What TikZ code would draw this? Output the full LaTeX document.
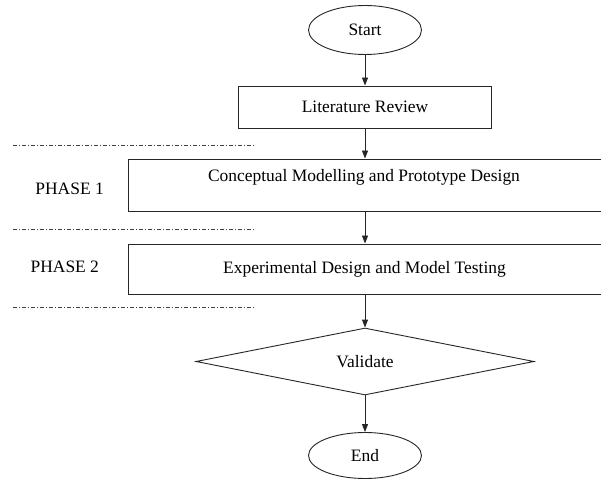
\documentclass[tikz,border=0pt]{standalone}
\usepackage{fontspec}
\setmainfont{Liberation Serif}
\usetikzlibrary{shapes.geometric,arrows.meta}
\begin{document}
\begin{tikzpicture}[x=1bp,y=-1bp,
  every node/.style={font=\fontsize{17.5}{20}\selectfont},
  line/.style={line width=0.9bp,draw=black!85},
  oval/.style={line,ellipse,inner sep=0pt},
  box/.style={line,rectangle,inner sep=0pt},
  dia/.style={line,diamond,aspect=5,inner sep=0pt},
  flow/.style={line,-{Triangle[length=8bp,width=6bp]}},
  phase/.style={draw=black!75,line width=0.7bp,dash pattern=on 4bp off 2bp on 1bp off 2bp}]
\useasboundingbox (0,0) rectangle (601,480);
\node[oval,minimum width=113bp,minimum height=49bp] (start) at (365,30) {Start};
\node[box,minimum width=253bp,minimum height=42bp] (lit) at (365,107) {Literature Review};
\node[box,minimum width=484bp,minimum height=52bp] (c1) at (370,185) {};
\node (c1t) at (364,177) {Conceptual Modelling and Prototype Design};
\node[box,minimum width=484bp,minimum height=50bp] (c2) at (370,269) {};
\node (c2t) at (364.5,269) {Experimental Design and Model Testing};
\node[dia,minimum width=338bp,minimum height=67bp] (val) at (365,361.5) {Validate};
\node[oval,minimum width=113bp,minimum height=46bp] (end) at (365,455.5) {End};
\node (p1) at (69.6,189) {PHASE 1};
\node (p2) at (64.8,267) {PHASE 2};
\coordinate (d1a) at (13,145); \coordinate (d1b) at (256,145);
\coordinate (d2a) at (13,229); \coordinate (d2b) at (256,229);
\coordinate (d3a) at (13,307); \coordinate (d3b) at (256,307);
\draw[phase] (d1a) -- (d1b);
\draw[phase] (d2a) -- (d2b);
\draw[phase] (d3a) -- (d3b);
\draw[flow] (start.south) -- (start.south |- lit.north);
\draw[flow] (lit.south) -- (lit.south |- c1.north);
\draw[flow] (lit.south |- c1.south) -- (lit.south |- c2.north);
\draw[flow] (lit.south |- c2.south) -- (val.north);
\draw[flow] (val.south) -- (end.north);
\end{tikzpicture}
\end{document}
